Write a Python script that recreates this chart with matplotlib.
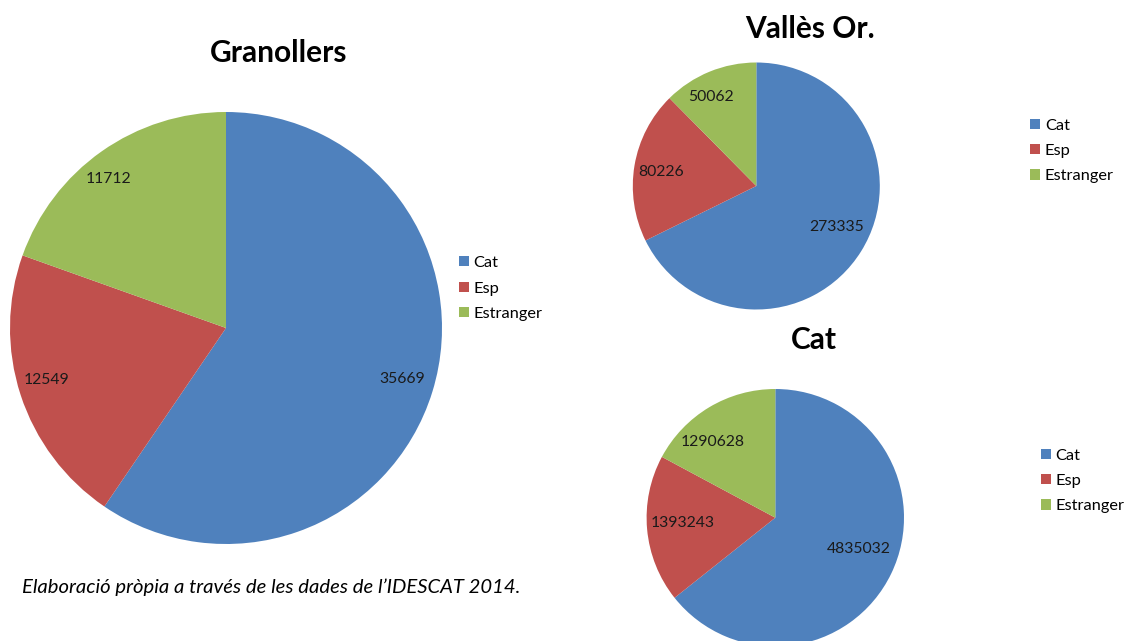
import numpy as np
import matplotlib
matplotlib.use("Agg")
import matplotlib.pyplot as plt

plt.rcParams['font.family'] = ['Lato', 'DejaVu Sans']

W, H = 1126, 641

categories = ["Cat", "Esp", "Estranger"]
granollers = [35669, 12549, 11712]
valles = [273335, 80226, 50062]
catalunya = [4835032, 1393243, 1290628]
titles = ["Granollers", "Vallès Or.", "Cat"]
caption = "Elaboració pròpia a través de les dades de l’IDESCAT 2014."

colors = ["#4F81BD", "#C0504D", "#9BBB59"]

fig = plt.figure(figsize=(W / 100, H / 100), dpi=100)
fig.patch.set_facecolor("white")


def px_rect(cx, cy, r):
    return [(cx - r) / W, (H - cy - r) / H, 2 * r / W, 2 * r / H]


def draw_pie(values, title, center, radius, title_xy, legend_xy, label_r, label_da):
    ax = fig.add_axes(px_rect(center[0], center[1], radius))
    wedges, _ = ax.pie(values, colors=colors, startangle=90, counterclock=False,
                       radius=1, wedgeprops=dict(linewidth=0))
    ax.set_xlim(-1, 1)
    ax.set_ylim(-1, 1)
    ax.axis("off")
    for w, v, r, da in zip(wedges, values, label_r, label_da):
        ang = np.deg2rad((w.theta1 + w.theta2) / 2 + da)
        ax.text(r * np.cos(ang), r * np.sin(ang), str(v), ha="center", va="center",
                fontsize=11.3, color="#1a1a1a")
    fig.text(title_xy[0] / W, 1 - title_xy[1] / H, title, ha="center", va="center",
             fontsize=21.5, fontweight="bold", color="black")
    fig.legend(wedges, categories, loc="center left",
               bbox_to_anchor=(legend_xy[0] / W, 1 - legend_xy[1] / H),
               frameon=False, fontsize=11.8, handlelength=0.6, handleheight=0.6,
               handletextpad=0.3, labelspacing=0.7, borderpad=0, borderaxespad=0)


draw_pie(granollers, titles[0], (226, 328), 216, (279, 53), (459, 288.5),
         [0.85, 0.865, 0.877], [1, -2, 3])
draw_pie(valles, titles[1], (756.3, 186), 123.5, (810, 29), (1030, 151),
         [0.73, 0.78, 0.81], [5, 1.3, 4.5])
draw_pie(catalunya, titles[2], (775.3, 517.7), 128.7, (814, 340), (1041, 481),
         [0.69, 0.72, 0.76], [5.4, -1.6, 8.7])

fig.text(22 / W, 1 - 587 / H, caption, ha="left", va="center", fontsize=14.6,
         fontstyle="italic", color="black")

fig.savefig("out.png", dpi=100, facecolor="white")
